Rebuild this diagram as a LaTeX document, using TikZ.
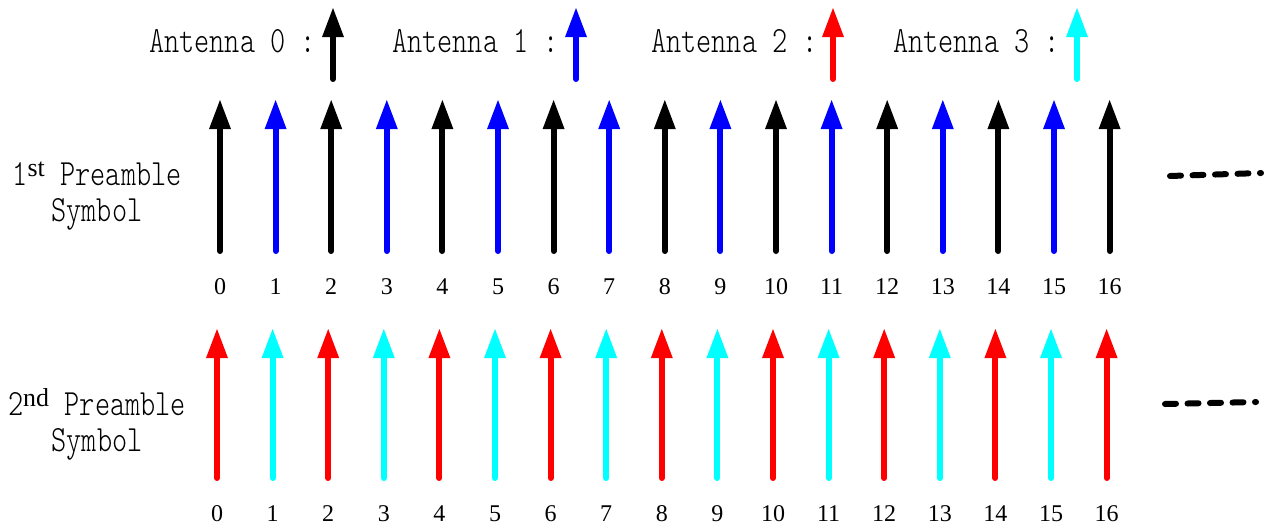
\documentclass[tikz,border=0pt]{standalone}
\usepackage{fontspec}
\newfontfamily\antfont[FakeStretch=0.78]{Latin Modern Mono Light}
\newfontfamily\numfont{Liberation Serif}
\usetikzlibrary{arrows.meta,positioning}
\definecolor{aqua}{RGB}{0,255,255}
\definecolor{pureblue}{RGB}{0,0,255}
\definecolor{purered}{RGB}{255,0,0}
\tikzset{
  ant/.style={-{Triangle[length=30pt,width=20pt]},line width=6pt,line cap=round},
  lbl/.style={font=\antfont\fontsize{37}{36}\selectfont,inner sep=0pt},
  idx/.style={font=\numfont\fontsize{24}{24}\selectfont,inner sep=0pt,anchor=base},
  etc/.style={line width=6pt,line cap=round,dash pattern=on 11pt off 11.5pt},
}
\begin{document}
\begin{tikzpicture}[x=1pt,y=-1pt]
\useasboundingbox (0,0) rectangle (1271,530);
% legend
\foreach \i/\tx/\ax/\col in {0/149/333/black,1/392/576/pureblue,2/651/833/purered,3/893/1077/aqua}{
  \node[lbl,anchor=base west] (leg\i) at (\tx,52) {Antenna \i\ :};
  \coordinate (lb\i) at (\ax,79);
  \coordinate (lt\i) at (\ax,7);
  \draw[ant,\col] (lb\i) -- (lt\i);
}
% row labels
\node[lbl,align=center] (pre1) at (97,196) {1{\numfont\textsuperscript{st}} Preamble\\Symbol};
\node[lbl,align=center] (pre2) at (97,424) {2{\numfont\textsuperscript{nd}} Preamble\\Symbol};
% subcarriers
\foreach \k in {0,...,16}{
  \ifodd\k \def\ca{pureblue}\def\cb{aqua}\else\def\ca{black}\def\cb{purered}\fi
  \coordinate (p\k) at (220+55.6*\k,251);
  \coordinate (q\k) at (220+55.6*\k,99);
  \draw[ant,\ca] (p\k) -- (q\k);
  \node[idx] (n\k) at (220+55.6*\k,294) {\k};
  \coordinate (r\k) at (217+55.6*\k,478);
  \coordinate (s\k) at (217+55.6*\k,328);
  \draw[ant,\cb] (r\k) -- (s\k);
  \node[idx] (m\k) at (217+55.6*\k,521) {\k};
}
% continuation
\coordinate (e1a) at (1170,176); \coordinate (e1b) at (1261,173);
\draw[etc] (e1a) -- (e1b);
\coordinate (e2a) at (1165,404); \coordinate (e2b) at (1256,402);
\draw[etc] (e2a) -- (e2b);
\end{tikzpicture}
\end{document}
